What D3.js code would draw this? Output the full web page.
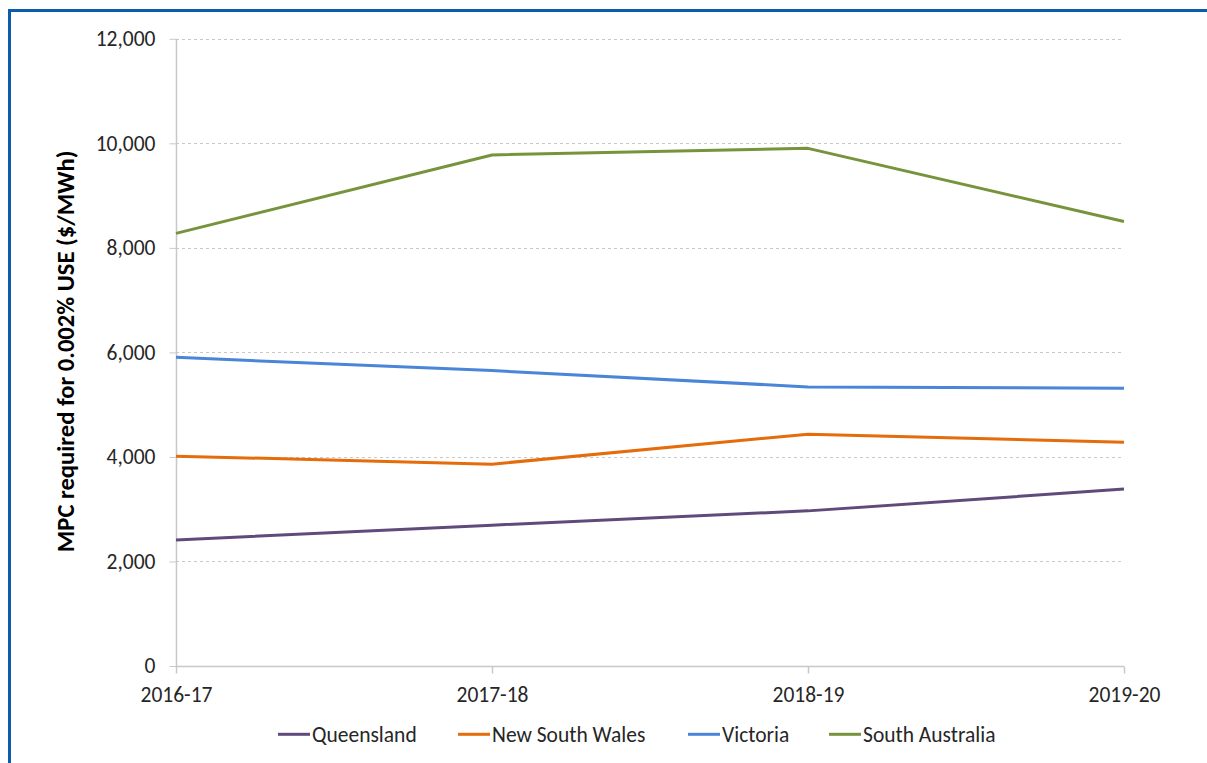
<!DOCTYPE html>
<html>
<head>
<meta charset="utf-8">
<script src="https://cdn.jsdelivr.net/npm/d3@7"></script>
<style>
  html, body { margin: 0; padding: 0; background: #fff; }
  svg { display: block; }
  text { font-family: Carlito, Lato, "Open Sans", sans-serif; fill: #262626; }
</style>
</head>
<body>
<svg id="chart" width="1207" height="763"></svg>
<script>
const categories = ["2016-17", "2017-18", "2018-19", "2019-20"];
const seriesNames = ["Queensland", "New South Wales", "Victoria", "South Australia"];
const queensland = [2410, 2695, 2968, 3385];
const newSouthWales = [4015, 3862, 4436, 4282];
const victoria = [5905, 5652, 5340, 5315];
const southAustralia = [8278, 9778, 9904, 8505];
const yTicks = [0, 2000, 4000, 6000, 8000, 10000, 12000];
const colors = ["#604A7B", "#E46C0A", "#4A86D8", "#77933C"];
const yTitle = "MPC required for 0.002% USE ($/MWh)";

const seriesValues = [queensland, newSouthWales, victoria, southAustralia];

(function () {
const svg = d3.select("#chart");
const W = 1207, H = 763;
const FS = 21.5;

svg.append("rect").attr("x", 9.5).attr("y", 10.5).attr("width", W + 20).attr("height", H + 20)
  .attr("fill", "none").attr("stroke", "#0B5CAD").attr("stroke-width", 3);

const mLeft = 176, mRight = 1124, mTop = 38.8, mBottom = 666;
const x = d3.scalePoint().domain(categories).range([mLeft, mRight]);
const y = d3.scaleLinear().domain([0, 12000]).range([mBottom, mTop]);

svg.append("g").selectAll("line").data(yTicks.filter(d => d > 0)).join("line")
  .attr("x1", mLeft).attr("x2", mRight)
  .attr("y1", d => Math.round(y(d)) + 0.5).attr("y2", d => Math.round(y(d)) + 0.5)
  .attr("stroke", "#C8C8C8").attr("stroke-width", 1).attr("stroke-dasharray", "3,3");

const yAxis = d3.axisLeft(y).tickValues(yTicks).tickFormat(d3.format(",")).tickSize(7).tickPadding(14);
const gy = svg.append("g").attr("transform", `translate(${mLeft + 0.5},0)`).call(yAxis);
gy.select(".domain").attr("stroke", "#C8C8C8").attr("stroke-width", 1.5).attr("d", `M0,${mTop}V${mBottom}`);
gy.selectAll(".tick line").attr("stroke", "#C8C8C8");
gy.selectAll(".tick text").attr("font-size", FS).attr("fill", "#262626")
  .style("font-family", "Carlito, Lato, 'Open Sans', sans-serif");

const xAxis = d3.axisBottom(x).tickSize(7).tickPadding(13);
const gx = svg.append("g").attr("transform", `translate(0,${mBottom + 0.5})`).call(xAxis);
gx.select(".domain").attr("stroke", "#C8C8C8").attr("stroke-width", 1.5).attr("d", `M${mLeft},0H${mRight}`);
gx.selectAll(".tick line").attr("stroke", "#C8C8C8").attr("stroke-width", 1.5);
gx.selectAll(".tick text").attr("font-size", FS).attr("fill", "#262626")
  .style("font-family", "Carlito, Lato, 'Open Sans', sans-serif");

svg.append("text")
  .attr("transform", `translate(73.5,${(mTop + mBottom) / 2 - 1}) rotate(-90)`)
  .attr("text-anchor", "middle")
  .attr("font-size", 24.6).attr("font-weight", "bold").style("fill", "#000")
  .text(yTitle);

const line = d3.line().x((d, i) => x(categories[i])).y(d => y(d));
svg.append("g").selectAll("path").data(seriesValues).join("path")
  .attr("d", d => line(d))
  .attr("fill", "none")
  .attr("stroke", (d, i) => colors[i])
  .attr("stroke-width", 3)
  .attr("stroke-linejoin", "round");

const legendX = [278, 458, 688, 829];
const ly = 734.3;
const lg = svg.append("g");
seriesNames.forEach((name, i) => {
  lg.append("line").attr("x1", legendX[i]).attr("x2", legendX[i] + 32)
    .attr("y1", ly).attr("y2", ly).attr("stroke", colors[i]).attr("stroke-width", 3);
  lg.append("text").attr("x", legendX[i] + 34).attr("y", 741.5)
    .attr("font-size", FS).text(name);
});
})();
</script>
</body>
</html>
